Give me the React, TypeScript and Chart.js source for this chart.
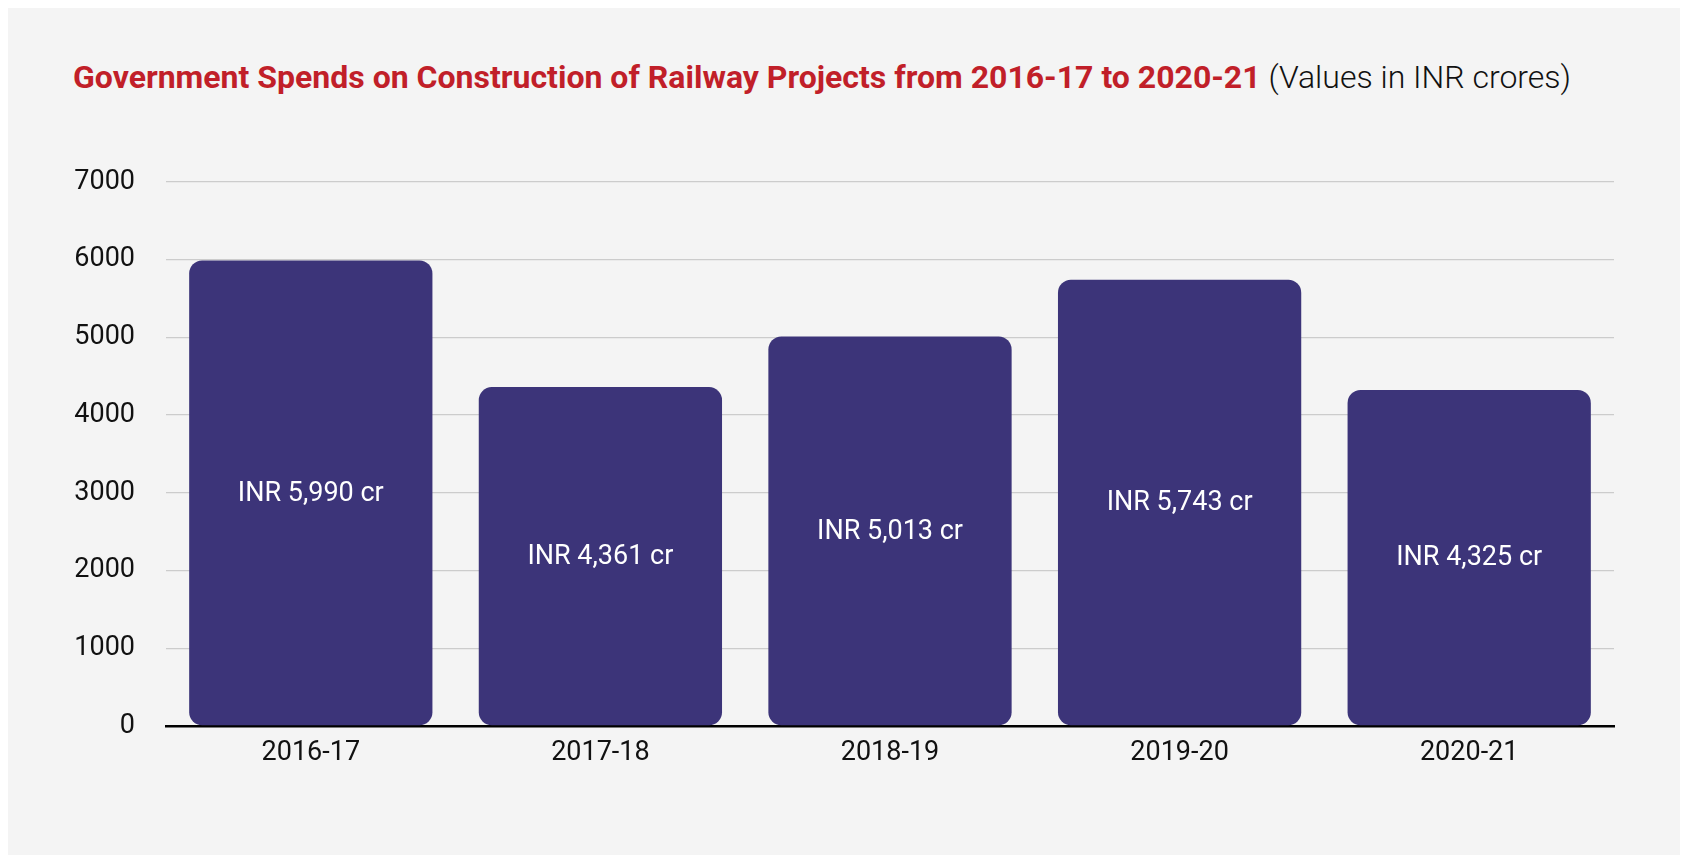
import React, { useEffect, useRef } from "react";
import { Chart, registerables } from "chart.js";

Chart.register(...registerables);

const categories = ["2016-17", "2017-18", "2018-19", "2019-20", "2020-21"];
const spends = [5990, 4361, 5013, 5743, 4325];
const yTicks = [0, 1000, 2000, 3000, 4000, 5000, 6000, 7000];
const titleMain = "Government Spends on Construction of Railway Projects from 2016-17 to 2020-21";
const titleSub = "(Values in INR crores)";

const BAR_COLOR = "#3c3479";

const valueLabelPlugin = {
  id: "valueLabels",
  afterDatasetsDraw(chart: any) {
    const { ctx } = chart;
    const meta = chart.getDatasetMeta(0);
    ctx.save();
    ctx.fillStyle = "#ffffff";
    ctx.font = "400 27px Roboto";
    ctx.textAlign = "center";
    ctx.textBaseline = "middle";
    meta.data.forEach((bar: any, i: number) => {
      const v = chart.data.datasets[0].data[i] as number;
      const y = (bar.y + bar.base) / 2 + 1;
      ctx.fillText("INR " + v.toLocaleString("en-US") + " cr", bar.x, y);
    });
    ctx.restore();
  },
};

export default function App() {
  const ref = useRef<HTMLCanvasElement | null>(null);

  useEffect(() => {
    if (!ref.current) return;
    const chart = new Chart(ref.current, {
      type: "bar",
      data: {
        labels: categories,
        datasets: [
          {
            data: spends,
            backgroundColor: BAR_COLOR,
            borderRadius: 13,
            borderSkipped: false,
            barPercentage: 0.84,
            categoryPercentage: 1,
          },
        ],
      },
      options: {
        animation: false,
        responsive: false,
        maintainAspectRatio: false,
        layout: { padding: { left: 0, right: 66, top: 174, bottom: 69 } },
        plugins: {
          legend: { display: false },
          title: { display: false },
          tooltip: { enabled: false },
        },
        scales: {
          x: {
            grid: { display: false, drawTicks: false },
            border: { display: true, color: "#000000", width: 2.5 },
            ticks: {
              color: "#111111",
              font: { family: "Roboto", size: 27 },
              padding: 11,
            },
            afterFit: (s: any) => {
              s.height = 60;
            },
          },
          y: {
            min: 0,
            max: 7000,
            afterBuildTicks: (s: any) => {
              s.ticks = yTicks.map((v) => ({ value: v }));
            },
            grid: { color: "#cccccc", lineWidth: 1.3, drawTicks: false },
            border: { display: false },
            ticks: {
              color: "#111111",
              font: { family: "Roboto", size: 27 },
              padding: 31,
              callback: (v: any) => String(v),
            },
            afterFit: (s: any) => {
              s.width = 158;
            },
          },
        },
      },
      plugins: [valueLabelPlugin],
    });
    return () => chart.destroy();
  }, []);

  return (
    <div
      style={{
        position: "relative",
        width: 1680,
        height: 847,
        background: "#f4f4f4",
        fontFamily: "Roboto",
      }}
    >
      <div
        style={{
          position: "absolute",
          left: 65,
          top: 53,
          fontSize: 32,
          lineHeight: "33px",
          whiteSpace: "nowrap",
        }}
      >
        <span style={{ color: "#c11f29", fontWeight: 700 }}>{titleMain}</span>
        <span style={{ color: "#111111", fontWeight: 300 }}> {titleSub}</span>
      </div>
      <canvas
        ref={ref}
        width={1672}
        height={847}
        style={{ position: "absolute", left: 0, top: 0, width: 1672, height: 847 }}
      />
    </div>
  );
}
